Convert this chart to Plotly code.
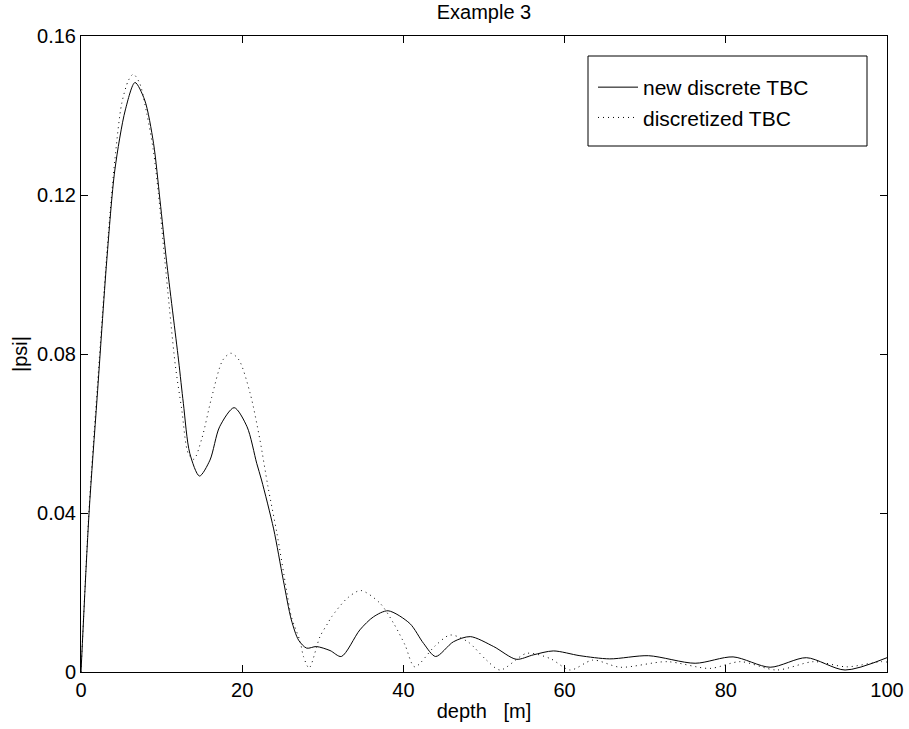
import plotly.graph_objects as go

# new discrete TBC (solid)
x_new = [0, 1.0, 2.0, 3.2, 4.2, 5.5, 6.7, 7.9, 9.0, 9.8, 10.6, 12.1, 12.7, 13.5, 14.7,
         16.0, 17.2, 19.0, 20.6, 21.8, 22.4, 23.9, 25.1, 26.1, 27.0, 28.0, 29.2, 30.9,
         32.3, 34.6, 36.3, 38.1, 40.8, 42.5, 44.0, 46.2, 48.3, 51.2, 54.0, 56.1, 58.6,
         61.9, 65.6, 70.4, 76.2, 80.9, 85.5, 90.0, 94.8, 100.0]
y_new = [0, 0.040, 0.069, 0.1036, 0.1263, 0.1414, 0.1483, 0.1439, 0.133, 0.1187, 0.1036,
         0.0785, 0.0676, 0.055, 0.0493, 0.0533, 0.0617, 0.0665, 0.0617, 0.0525, 0.0483,
         0.0360, 0.0231, 0.0131, 0.008, 0.006, 0.0064, 0.0054, 0.0039, 0.0106, 0.0139,
         0.0154, 0.0122, 0.0072, 0.0039, 0.0076, 0.0089, 0.0064, 0.0032, 0.0043, 0.0053,
         0.0041, 0.0033, 0.0041, 0.0022, 0.0038, 0.0012, 0.0036, 0.0005, 0.0036]

# discretized TBC (dotted)
x_old = [0, 1.0, 2.0, 3.4, 4.2, 5.05, 5.9, 6.5, 7.3, 8.15, 8.97, 9.6, 10.4, 11.7, 12.5,
         13.3, 14.0, 15.0, 16.2, 17.6, 18.6, 19.6, 21.0, 22.2, 23.2, 24.3, 25.5, 26.1,
         27.2, 27.6, 28.3, 29.65, 30.6, 31.1, 33.0, 34.7, 37.1, 38.8, 40.2, 41.4, 43.9,
         45.8, 48.0, 50.3, 52.0, 55.3, 58.2, 60.7, 63.5, 66.9, 72.7, 78.0, 81.8, 86.3,
         90.9, 95.0, 99.2, 100.0]
y_old = [0, 0.041, 0.071, 0.1104, 0.1288, 0.143, 0.1489, 0.1504, 0.148, 0.1406, 0.1313,
         0.1204, 0.1036, 0.0772, 0.066, 0.055, 0.0535, 0.0588, 0.069, 0.0785, 0.0802,
         0.0785, 0.070, 0.0584, 0.0466, 0.035, 0.0206, 0.0139, 0.0076, 0.0039, 0.001,
         0.0089, 0.0122, 0.0139, 0.0185, 0.0205, 0.0173, 0.0122, 0.0068, 0.0013, 0.0065,
         0.0093, 0.0076, 0.003, 0.0005, 0.0047, 0.0034, 0.0005, 0.003, 0.0012, 0.0026,
         0.0009, 0.0026, 0.0005, 0.0026, 0.0013, 0.0026, 0.0025]

x_ticks = [0, 20, 40, 60, 80, 100]
y_ticks = [0, 0.04, 0.08, 0.12, 0.16]
y_tick_labels = ["0", "0.04", "0.08", "0.12", "0.16"]

FONT = "Liberation Sans, Arial, Helvetica, sans-serif"
L, R, T, B = 81, 887, 36, 672
W, H = 909, 729
FS = 20

def px_x(p):
    return (p - L) / (R - L)

def px_y(p):
    return (B - p) / (B - T)

fig = go.Figure()
fig.add_trace(go.Scatter(x=x_new, y=y_new, mode="lines", name="new discrete TBC",
                         line=dict(color="black", width=1, shape="spline", smoothing=0.8),
                         legendgroup="a"))
fig.add_trace(go.Scatter(x=x_old, y=y_old, mode="lines", name="discretized TBC",
                         line=dict(color="black", width=1, dash="1px,4px",
                                   shape="spline", smoothing=0.8),
                         legendgroup="b"))

axis_common = dict(showgrid=False, zeroline=False, showline=True, linecolor="black",
                   linewidth=1, mirror="ticks", ticks="inside", ticklen=7,
                   tickcolor="black", automargin=False, ticklabeloverflow="allow",
                   tickfont=dict(family=FONT, size=FS, color="black"))

fig.update_layout(
    width=W, height=H,
    margin=dict(l=L, r=W - R, t=T, b=H - B, autoexpand=False),
    paper_bgcolor="white", plot_bgcolor="white",
    font=dict(family=FONT, size=FS, color="black"),
    title=dict(text="Example 3", x=(L + R) / 2 / W, xanchor="center",
               y=1 - 12 / H, yanchor="middle",
               font=dict(family=FONT, size=FS, color="black")),
    xaxis=dict(range=[0, 100], tickvals=x_ticks, title=dict(text="depth   [m]", standoff=3,
               font=dict(family=FONT, size=FS)), **axis_common),
    yaxis=dict(range=[0, 0.16], tickvals=y_ticks, ticktext=y_tick_labels,
               title=dict(text="|psi|", standoff=4, font=dict(family=FONT, size=FS)),
               **axis_common),
    legend=dict(x=px_x(593), xanchor="left", y=px_y(67), yanchor="top",
                bgcolor="rgba(0,0,0,0)", borderwidth=0,
                font=dict(family=FONT, size=21), traceorder="grouped",
                tracegroupgap=0, itemwidth=40),
    shapes=[dict(type="rect", xref="paper", yref="paper",
                 x0=px_x(588), x1=px_x(867), y0=px_y(146), y1=px_y(56),
                 line=dict(color="black", width=1), fillcolor="white", layer="below")],
    showlegend=True,
)

fig.write_html("out.html")
